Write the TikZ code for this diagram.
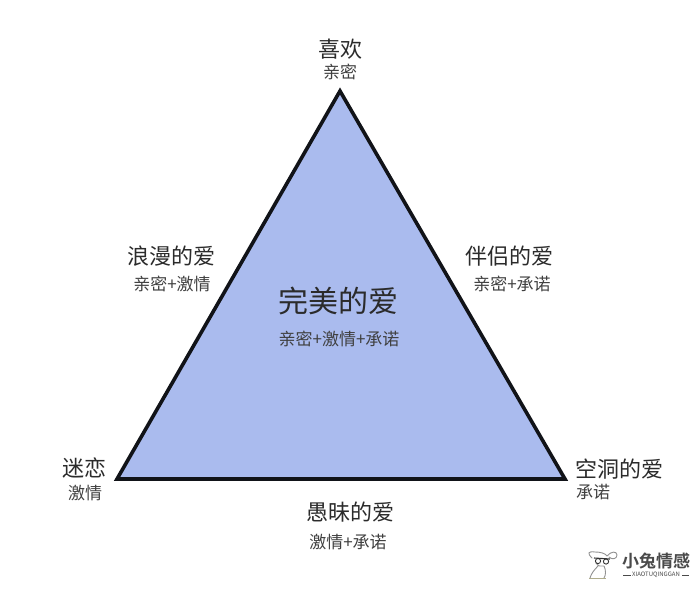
\documentclass[tikz,border=0pt]{standalone}
\usepackage{fontspec}
\setmainfont{Noto Sans CJK SC}
\newfontfamily\logofont{Noto Sans CJK SC Bold}
\definecolor{inkc}{HTML}{2B2B2B}
\definecolor{fillc}{HTML}{AABBEE}
\definecolor{logoc}{HTML}{4A4A4A}
\tikzset{
  big/.style={font=\fontsize{22}{24}\selectfont,text=inkc,inner sep=0pt},
  small/.style={font=\fontsize{17}{19}\selectfont,text=inkc!90!white,inner sep=0pt},
  tri/.style={draw=black!90!fillc,fill=fillc,line width=3.6pt,line join=miter},
}
\begin{document}
\begin{tikzpicture}[x=1pt,y=-1pt]
\useasboundingbox (0,0) rectangle (700,590);
\fill[white] (0,0) rectangle (700,590);
\coordinate (apex) at (340,91);
\coordinate (left) at (117,479);
\coordinate (right) at (565,479);
\draw[tri] (apex) -- (right) -- (left) -- cycle;
\node[big] (t1) at (340,49) {喜欢};
\node[small] (t1s) at (340,72) {亲密};
\node[big] (t2) at (171,256) {浪漫的爱};
\node[small] (t2s) at (172,284) {亲密+激情};
\node[big] (t3) at (509,256) {伴侣的爱};
\node[small] (t3s) at (512,284) {亲密+承诺};
\node[big,font=\fontsize{30}{32}\selectfont] (t4) at (338,301) {完美的爱};
\node[small] (t4s) at (339,339) {亲密+激情+承诺};
\node[big] (t5) at (84,468) {迷恋};
\node[small] (t5s) at (85,493) {激情};
\node[big] (t6) at (619,469) {空洞的爱};
\node[small] (t6s) at (593,492) {承诺};
\node[big] (t7) at (350,512) {愚昧的爱};
\node[small] (t7s) at (348,542) {激情+承诺};
% logo
\node[inner sep=0pt,text=logoc,font=\logofont\fontsize{17}{18}\selectfont] (logo) at (656,561) {小兔情感};
\node[inner sep=0pt,text=logoc,font=\fontsize{6}{7}\selectfont] (logos) at (656,575) {XIAOTUQINGGAN};
\coordinate (da) at (623,575);\coordinate (db) at (631,575);
\coordinate (dc) at (682,575);\coordinate (dd) at (689,575);
\draw[logoc,line width=0.8pt] (da) -- (db) (dc) -- (dd);
% dog
\draw[logoc!60!white,line width=0.9pt,line cap=round,line join=round]
 (592,558) .. controls (587,553) and (588,551) .. (595,552)
 .. controls (600,552) and (605,553) .. (607,556)
 .. controls (611,551) and (617,551) .. (617,555)
 .. controls (617,559) and (612,560) .. (609,557)
 (596,563) .. controls (598,566) and (601,567) .. (604,566)
 (598,566) .. controls (594,570) and (591,574) .. (590,578)
 (604,566) .. controls (606,570) and (606,575) .. (604,578);
\draw[black!80,line width=1.1pt] (594,558) -- (610,559);
\draw[black!80,line width=0.9pt] (598,561) circle[radius=2.6pt] (606,561.5) circle[radius=2.6pt];
\draw[black!45!white!80!yellow,line width=1.4pt] (589,578.5) -- (606,578.5);
\end{tikzpicture}
\end{document}
